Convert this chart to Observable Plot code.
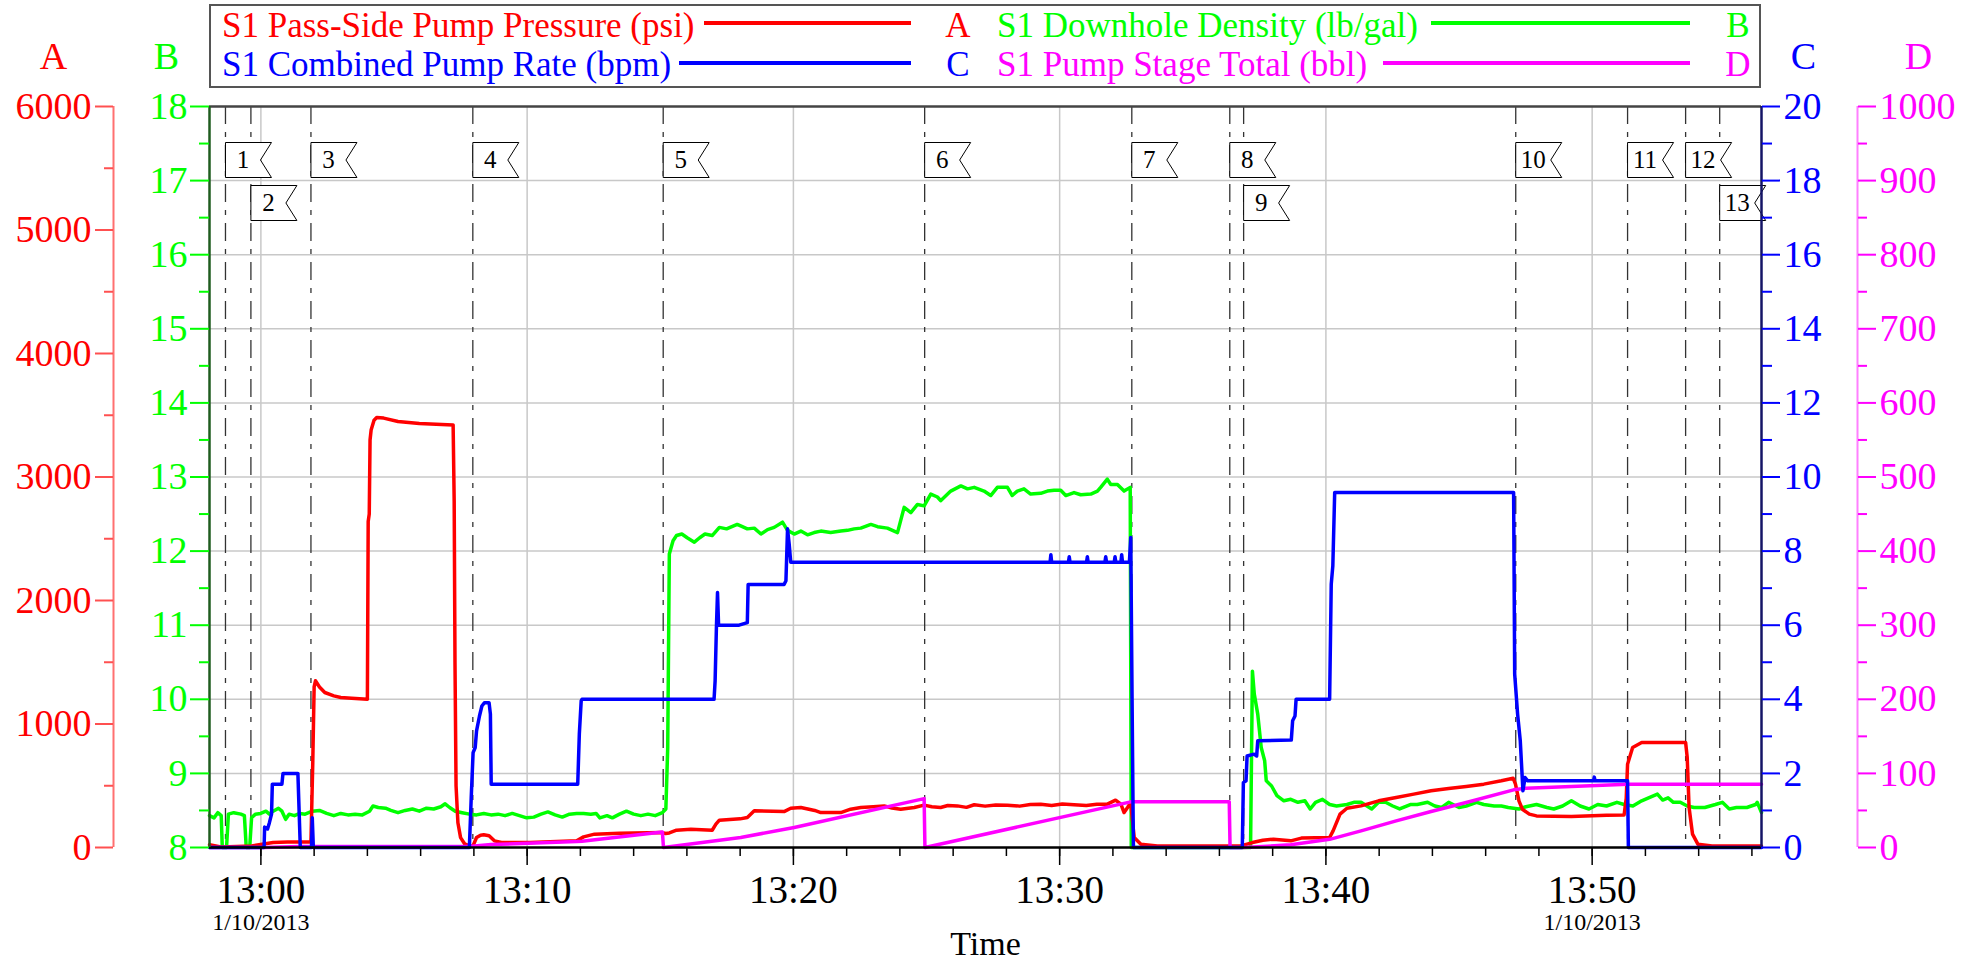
<!DOCTYPE html>
<html><head><meta charset="utf-8">
<script src="https://cdn.jsdelivr.net/npm/d3@7"></script>
<script src="https://cdn.jsdelivr.net/npm/@observablehq/plot@0.6"></script>
<style>
body{margin:0;background:#fff;}
#wrap{position:relative;width:1978px;height:962px;font-family:"Liberation Serif","Times New Roman",serif;}
#chart{position:absolute;left:0;top:0;}
#legendbox{position:absolute;left:209px;top:4px;width:1552px;height:84px;border:2px solid #555;box-sizing:border-box;background:#fff;}
.lt{position:absolute;font-size:35px;line-height:40px;white-space:nowrap;}
.lc{position:absolute;font-size:35px;line-height:40px;width:60px;text-align:center;}
.ll{position:absolute;height:4px;}
</style></head><body>
<div id="wrap">
<div id="chart"></div>
<div id="legendbox"></div>
<div class="lt" style="left:222px;top:6px;color:#ff0000">S1 Pass-Side Pump Pressure (psi)</div>
<div class="ll" style="left:704px;top:21px;width:207px;background:#ff0000"></div>
<div class="lc" style="left:928px;top:6px;color:#ff0000">A</div>
<div class="lt" style="left:997px;top:6px;color:#00ff00">S1 Downhole Density (lb/gal)</div>
<div class="ll" style="left:1431px;top:21px;width:259px;background:#00ff00"></div>
<div class="lc" style="left:1708px;top:6px;color:#00ff00">B</div>
<div class="lt" style="left:222px;top:45px;color:#0000ff">S1 Combined Pump Rate (bpm)</div>
<div class="ll" style="left:679px;top:61px;width:232px;background:#0000ff"></div>
<div class="lc" style="left:928px;top:45px;color:#0000ff">C</div>
<div class="lt" style="left:997px;top:45px;color:#ff00ff">S1 Pump Stage Total (bbl)</div>
<div class="ll" style="left:1383px;top:61px;width:307px;background:#ff00ff"></div>
<div class="lc" style="left:1708px;top:45px;color:#ff00ff">D</div>
</div>
<script>
// minutes relative to 13:00 on 1/10/2013
const pressure = [[-1.93,22],[-1.5,5],[-0.35,13],[0.46,40],[1.0,45],[1.88,45],[1.95,700],[2.0,1300],[2.05,1350],[2.2,1300],[2.4,1255],[2.74,1228],[3.0,1215],[3.41,1209],[4.0,1201],[4.03,2640],[4.07,2700],[4.10,3300],[4.14,3380],[4.25,3460],[4.35,3482],[4.61,3477],[5.15,3450],[5.95,3433],[7.22,3422],[7.26,2800],[7.29,1500],[7.33,500],[7.40,200],[7.50,80],[7.65,30],[7.83,13],[7.97,15],[8.10,81],[8.25,100],[8.37,103],[8.57,95],[8.77,54],[9.04,40],[10.11,40],[11.86,54],[12.12,86],[12.53,108],[13.47,116],[15.08,121],[15.2,113],[15.34,118],[15.61,140],[16.15,148],[16.95,140],[17.09,189],[17.22,221],[18.0,232],[18.27,243],[18.53,297],[19.65,291],[19.9,318],[20.28,324],[20.8,300],[21.03,283],[21.78,283],[22.15,310],[22.53,324],[23.0,330],[23.41,337],[23.7,320],[24.03,310],[24.54,324],[24.91,343],[25.2,330],[25.53,324],[25.8,340],[26.16,337],[26.5,325],[26.79,346],[27.2,335],[27.6,345],[28.04,343],[28.5,335],[28.9,348],[29.29,351],[29.7,340],[30.1,352],[30.54,346],[31.0,340],[31.4,350],[31.79,351],[32.10,383],[32.30,351],[32.42,283],[32.55,324],[32.67,365],[32.72,250],[32.80,81],[33.05,27],[33.67,13],[36.8,13],[37.24,40],[37.63,59],[38.03,67],[38.68,54],[39.08,76],[40.14,81],[40.27,135],[40.53,270],[40.79,318],[41.32,337],[41.98,378],[42.64,405],[43.30,432],[43.95,459],[44.61,478],[45.27,494],[45.93,513],[46.59,540],[47.03,561],[47.12,513],[47.25,378],[47.38,310],[47.64,270],[47.91,256],[49.22,251],[50.54,262],[51.20,264],[51.28,400],[51.33,675],[51.52,810],[51.86,850],[53.51,850],[53.57,730],[53.64,324],[53.77,108],[53.97,27],[54.5,13],[56.36,13]];

const density = [[-1.93,8.43],[-1.76,8.40],[-1.62,8.47],[-1.49,8.43],[-1.45,8.0],[-1.29,8.0],[-1.22,8.45],[-1.02,8.47],[-0.75,8.45],[-0.62,8.43],[-0.55,8.0],[-0.42,8.0],[-0.35,8.40],[-0.21,8.45],[-0.01,8.46],[0.19,8.49],[0.32,8.45],[0.46,8.49],[0.66,8.53],[0.79,8.49],[0.93,8.38],[1.06,8.45],[1.26,8.43],[1.46,8.46],[1.66,8.45],[1.93,8.49],[2.2,8.50],[2.47,8.46],[2.74,8.43],[3.0,8.46],[3.27,8.44],[3.54,8.45],[3.81,8.44],[4.08,8.49],[4.21,8.56],[4.41,8.54],[4.68,8.53],[4.88,8.50],[5.15,8.47],[5.42,8.50],[5.69,8.52],[5.95,8.49],[6.22,8.53],[6.49,8.52],[6.76,8.55],[6.92,8.59],[7.09,8.54],[7.30,8.49],[7.56,8.47],[7.83,8.45],[8.10,8.44],[8.37,8.46],[8.64,8.44],[8.91,8.45],[9.17,8.43],[9.44,8.46],[9.71,8.43],[9.98,8.40],[10.25,8.41],[10.52,8.45],[10.78,8.48],[11.05,8.44],[11.32,8.41],[11.59,8.45],[11.86,8.46],[12.12,8.46],[12.39,8.45],[12.59,8.46],[12.73,8.40],[13.0,8.43],[13.2,8.40],[13.47,8.45],[13.73,8.49],[14.0,8.45],[14.27,8.43],[14.54,8.45],[14.81,8.43],[15.08,8.47],[15.21,8.52],[15.28,9.35],[15.34,11.96],[15.48,12.14],[15.61,12.21],[15.81,12.23],[16.01,12.18],[16.28,12.12],[16.48,12.18],[16.68,12.23],[16.95,12.21],[17.22,12.32],[17.49,12.30],[17.89,12.36],[18.02,12.34],[18.27,12.30],[18.53,12.31],[18.78,12.23],[19.03,12.29],[19.28,12.32],[19.59,12.39],[19.78,12.28],[20.03,12.23],[20.28,12.27],[20.53,12.22],[20.78,12.25],[21.03,12.27],[21.40,12.25],[21.78,12.27],[22.03,12.28],[22.28,12.30],[22.53,12.31],[22.91,12.36],[23.16,12.33],[23.53,12.31],[23.91,12.25],[24.16,12.59],[24.41,12.52],[24.66,12.63],[24.91,12.61],[25.16,12.77],[25.41,12.73],[25.53,12.68],[25.91,12.81],[26.29,12.88],[26.54,12.84],[26.79,12.86],[27.16,12.81],[27.41,12.75],[27.66,12.86],[28.04,12.86],[28.22,12.75],[28.41,12.81],[28.66,12.84],[28.91,12.77],[29.29,12.78],[29.54,12.81],[29.79,12.82],[30.04,12.82],[30.23,12.75],[30.54,12.79],[30.79,12.76],[31.17,12.77],[31.42,12.81],[31.54,12.86],[31.79,12.97],[31.92,12.90],[32.17,12.90],[32.42,12.81],[32.65,12.86],[32.69,8.0],[37.17,8.0],[37.24,10.38],[37.31,10.07],[37.44,9.80],[37.57,9.35],[37.70,9.17],[37.76,8.90],[37.96,8.83],[38.16,8.70],[38.42,8.63],[38.68,8.65],[38.95,8.61],[39.21,8.63],[39.41,8.52],[39.61,8.61],[39.87,8.65],[40.14,8.58],[40.40,8.56],[40.79,8.58],[41.05,8.61],[41.32,8.61],[41.72,8.52],[41.98,8.61],[42.24,8.61],[42.51,8.56],[42.77,8.52],[43.17,8.58],[43.43,8.58],[43.82,8.61],[44.09,8.56],[44.35,8.54],[44.61,8.61],[45.00,8.54],[45.27,8.56],[45.66,8.61],[45.93,8.58],[46.32,8.56],[46.59,8.56],[46.85,8.54],[47.25,8.52],[47.51,8.55],[47.91,8.58],[48.30,8.54],[48.56,8.52],[48.89,8.56],[49.22,8.63],[49.55,8.56],[49.88,8.52],[50.21,8.58],[50.54,8.56],[50.93,8.61],[51.20,8.58],[51.53,8.56],[51.86,8.63],[52.12,8.67],[52.45,8.72],[52.65,8.64],[52.85,8.67],[53.05,8.61],[53.31,8.61],[53.57,8.56],[53.83,8.54],[54.23,8.54],[54.63,8.58],[54.89,8.61],[55.15,8.52],[55.42,8.54],[55.81,8.54],[56.14,8.58],[56.20,8.61],[56.36,8.47]];

const rate = [[-1.93,0],[0.12,0],[0.14,0.55],[0.25,0.5],[0.32,0.67],[0.40,0.9],[0.43,1.71],[0.79,1.71],[0.83,2.0],[1.39,2.0],[1.48,0],[1.90,0],[1.93,0.8],[1.97,0],[7.83,0],[7.90,1.35],[7.97,2.56],[8.05,2.7],[8.10,3.15],[8.21,3.55],[8.30,3.82],[8.40,3.91],[8.57,3.91],[8.62,3.6],[8.65,1.71],[11.90,1.71],[11.96,3.06],[12.03,3.96],[12.06,4.0],[17.02,4.0],[17.06,4.5],[17.11,5.98],[17.15,6.88],[17.19,6.0],[17.96,6.0],[18.27,6.07],[18.30,7.1],[19.65,7.1],[19.72,7.2],[19.78,8.6],[19.84,8.2],[19.90,7.7],[29.64,7.7],[29.67,7.9],[29.70,7.7],[30.33,7.7],[30.36,7.85],[30.39,7.7],[31.01,7.7],[31.04,7.85],[31.07,7.7],[31.70,7.7],[31.73,7.85],[31.76,7.7],[32.05,7.7],[32.08,7.85],[32.11,7.7],[32.30,7.7],[32.33,7.9],[32.36,7.7],[32.62,7.7],[32.67,8.37],[32.72,4],[32.77,0],[36.86,0],[36.90,1.75],[37.00,1.8],[37.04,2.47],[37.30,2.52],[37.40,2.47],[37.44,2.88],[38.70,2.9],[38.75,3.42],[38.84,3.55],[38.88,4.0],[40.14,4.0],[40.20,7.1],[40.26,7.6],[40.33,9.58],[47.05,9.58],[47.09,4.68],[47.20,3.6],[47.30,2.88],[47.40,1.53],[47.48,1.89],[47.58,1.8],[50.05,1.8],[50.08,1.9],[50.11,1.8],[51.33,1.8],[51.36,0],[56.36,0]];

const stageTotal = [[-1.93,0],[0.12,0],[1.47,1.5],[7.83,1.5],[8.64,4],[11.86,8],[12.06,8.5],[15.08,21],[15.12,0],[18.02,13.5],[20.03,27],[24.91,66],[24.94,0],[32.67,61.6],[36.37,61.6],[36.40,0],[36.90,0],[38.68,3.6],[40.14,11],[41.32,22.5],[42.64,36],[43.95,48.6],[45.27,60.7],[47.05,77.8],[47.51,80],[49.22,82.3],[51.33,85.5],[56.36,85.5]];

const events = [{n:1,t:-1.33,row:1},{n:2,t:-0.375,row:2},{n:3,t:1.88,row:1},{n:4,t:7.96,row:1},{n:5,t:15.11,row:1},{n:6,t:24.93,row:1},{n:7,t:32.71,row:1},{n:8,t:36.39,row:1},{n:9,t:36.91,row:2},{n:10,t:47.13,row:1},{n:11,t:51.33,row:1},{n:12,t:53.51,row:1},{n:13,t:54.79,row:2}];

const majorMinutes = [0,10,20,30,40,50];
const minorMinutes = [0,2,4,6,8,10,12,14,16,18,20,22,24,26,28,30,32,34,36,38,40,42,44,46,48,50,52,54,56];
const dateLabelMinutes = [0,50];
const dateLabel = "1/10/2013";

const pressureTicks = [0,1000,2000,3000,4000,5000,6000];
const pressureMinor = [500,1500,2500,3500,4500,5500];
const densityTicks = [8,9,10,11,12,13,14,15,16,17,18];
const densityMinor = [8.5,9.5,10.5,11.5,12.5,13.5,14.5,15.5,16.5,17.5];
const rateTicks = [0,2,4,6,8,10,12,14,16,18,20];
const rateMinor = [1,3,5,7,9,11,13,15,17,19];
const stageTicks = [0,100,200,300,400,500,600,700,800,900,1000];
const stageMinor = [50,150,250,350,450,550,650,750,850,950];

const T0 = Date.UTC(2013,0,10,13,0,0);
const tm = m => new Date(T0 + m*60000);
const tStart = -1.93, tEnd = 56.36;

// map each series onto the shared density (B) scale
const toA = p => 8 + p/600;
const toC = c => 8 + c/2;
const toD = d => 8 + d/100;

const RED="#ff0000", GREEN="#00ff00", BLUE="#0000ff", MAG="#ff00ff";
const flagShape = {draw(ctx){ctx.moveTo(0,0);ctx.lineTo(46,0);ctx.lineTo(35,17.5);ctx.lineTo(46,35);ctx.lineTo(0,35);ctx.closePath();}};
const fmtTime = d => d.getUTCHours() + ":" + String(d.getUTCMinutes()).padStart(2,"0");

const row1 = events.filter(e => e.row === 1), row2 = events.filter(e => e.row === 2);

const chart = Plot.plot({
  width: 1978, height: 962,
  marginLeft: 209, marginRight: 217, marginTop: 106, marginBottom: 115,
  style: {fontFamily: '"Liberation Serif","Times New Roman",serif', fontSize: "38px", background: "white", color: "black", overflow: "visible"},
  x: {type: "utc", domain: [tm(tStart), tm(tEnd)]},
  y: {domain: [8, 18]},
  marks: [
    // grid
    Plot.ruleY(densityTicks.slice(1, -1), {stroke: "#c8c8c8", strokeWidth: 1.5}),
    Plot.ruleX(majorMinutes, {x: m => tm(m), stroke: "#c8c8c8", strokeWidth: 1.5}),
    // event lines
    Plot.ruleX(events, {x: e => tm(e.t), stroke: "#333", strokeWidth: 1.3, strokeDasharray: "18,8,5,8"}),
    // series
    Plot.line(density, {x: d => tm(d[0]), y: d => d[1], stroke: GREEN, strokeWidth: 3.5}),
    Plot.line(pressure, {x: d => tm(d[0]), y: d => toA(d[1]), stroke: RED, strokeWidth: 3.5}),
    Plot.line(stageTotal, {x: d => tm(d[0]), y: d => toD(d[1]), stroke: MAG, strokeWidth: 3.5}),
    Plot.line(rate, {x: d => tm(d[0]), y: d => toC(d[1]), stroke: BLUE, strokeWidth: 3.5}),
    // flags
    Plot.dot(row1, {x: e => tm(e.t), frameAnchor: "top", dy: 36, symbol: flagShape, r: 5, fill: "white", stroke: "black", strokeWidth: 1}),
    Plot.dot(row2, {x: e => tm(e.t), frameAnchor: "top", dy: 79, symbol: flagShape, r: 5, fill: "white", stroke: "black", strokeWidth: 1}),
    Plot.text(row1, {x: e => tm(e.t), text: e => String(e.n), frameAnchor: "top", textAnchor: "middle", lineAnchor: "middle", dx: 17.5, dy: 53.5, fontSize: 25, fill: "black"}),
    Plot.text(row2, {x: e => tm(e.t), text: e => String(e.n), frameAnchor: "top", textAnchor: "middle", lineAnchor: "middle", dx: 17.5, dy: 96.5, fontSize: 25, fill: "black"}),
    // frame edges
    Plot.ruleY([18], {stroke: "#444", strokeWidth: 2.5}),
    Plot.ruleY([8], {stroke: "black", strokeWidth: 2.5}),
    Plot.ruleX([tStart], {x: m => tm(m), stroke: "#1f5c1f", strokeWidth: 2.5}),
    Plot.ruleX([tEnd], {x: m => tm(m), stroke: "#141466", strokeWidth: 2.5}),
    // outer axis lines
    Plot.ruleX([tStart], {x: m => tm(m), dx: -96, stroke: "#ff7070", strokeWidth: 2}),
    Plot.ruleX([tEnd], {x: m => tm(m), dx: 96, stroke: "#ff80ff", strokeWidth: 2}),
    // axis A (pressure)
    Plot.axisY(pressureTicks.map(toA), {anchor: "left", dx: -96, tickSize: 18, tickPadding: 4, tickFormat: v => String(Math.round((v - 8) * 600)), fontSize: 38, fill: RED, stroke: "#ff5050", strokeWidth: 2, label: null}),
    Plot.axisY(pressureMinor.map(toA), {anchor: "left", dx: -96, tickSize: 9, tickFormat: () => "", stroke: "#ff5050", strokeWidth: 2, label: null}),
    // axis B (density)
    Plot.axisY(densityTicks, {anchor: "left", tickSize: 19, tickPadding: 3, tickFormat: v => String(v), fontSize: 38, fill: GREEN, stroke: GREEN, strokeWidth: 2, label: null}),
    Plot.axisY(densityMinor, {anchor: "left", tickSize: 10, tickFormat: () => "", stroke: GREEN, strokeWidth: 2, label: null}),
    // axis C (rate)
    Plot.axisY(rateTicks.map(toC), {anchor: "right", tickSize: 18, tickPadding: 4, tickFormat: v => String(Math.round((v - 8) * 2)), fontSize: 38, fill: BLUE, stroke: BLUE, strokeWidth: 2, label: null}),
    Plot.axisY(rateMinor.map(toC), {anchor: "right", tickSize: 10, tickFormat: () => "", stroke: BLUE, strokeWidth: 2, label: null}),
    // axis D (stage total)
    Plot.axisY(stageTicks.map(toD), {anchor: "right", dx: 96, tickSize: 18, tickPadding: 4, tickFormat: v => String(Math.round((v - 8) * 100)), fontSize: 38, fill: MAG, stroke: MAG, strokeWidth: 2, label: null}),
    Plot.axisY(stageMinor.map(toD), {anchor: "right", dx: 96, tickSize: 9, tickFormat: () => "", stroke: MAG, strokeWidth: 2, label: null}),
    // x axis
    Plot.axisX(majorMinutes.map(tm), {anchor: "bottom", tickSize: 18, tickPadding: 10, tickFormat: fmtTime, fontSize: 39, fill: "black", stroke: "black", strokeWidth: 1.5, label: null}),
    Plot.axisX(minorMinutes.map(tm), {anchor: "bottom", tickSize: 9, tickFormat: () => "", stroke: "black", strokeWidth: 1.5, label: null}),
    Plot.text(dateLabelMinutes, {x: m => tm(m), text: () => dateLabel, frameAnchor: "bottom", textAnchor: "middle", lineAnchor: "middle", dy: 75, fontSize: 24, fill: "black"}),
    Plot.text(["Time"], {text: d => d, frameAnchor: "bottom", textAnchor: "middle", lineAnchor: "middle", dy: 97, fontSize: 34, fill: "black"}),
    // axis titles
    Plot.text(["A"], {text: d => d, frameAnchor: "top-left", textAnchor: "middle", lineAnchor: "middle", dx: -156, dy: -50, fontSize: 38, fill: RED}),
    Plot.text(["B"], {text: d => d, frameAnchor: "top-left", textAnchor: "middle", lineAnchor: "middle", dx: -43, dy: -50, fontSize: 38, fill: GREEN}),
    Plot.text(["C"], {text: d => d, frameAnchor: "top-right", textAnchor: "middle", lineAnchor: "middle", dx: 42, dy: -50, fontSize: 38, fill: BLUE}),
    Plot.text(["D"], {text: d => d, frameAnchor: "top-right", textAnchor: "middle", lineAnchor: "middle", dx: 157, dy: -50, fontSize: 38, fill: MAG})
  ]
});
document.getElementById("chart").appendChild(chart);
</script>
</body></html>
